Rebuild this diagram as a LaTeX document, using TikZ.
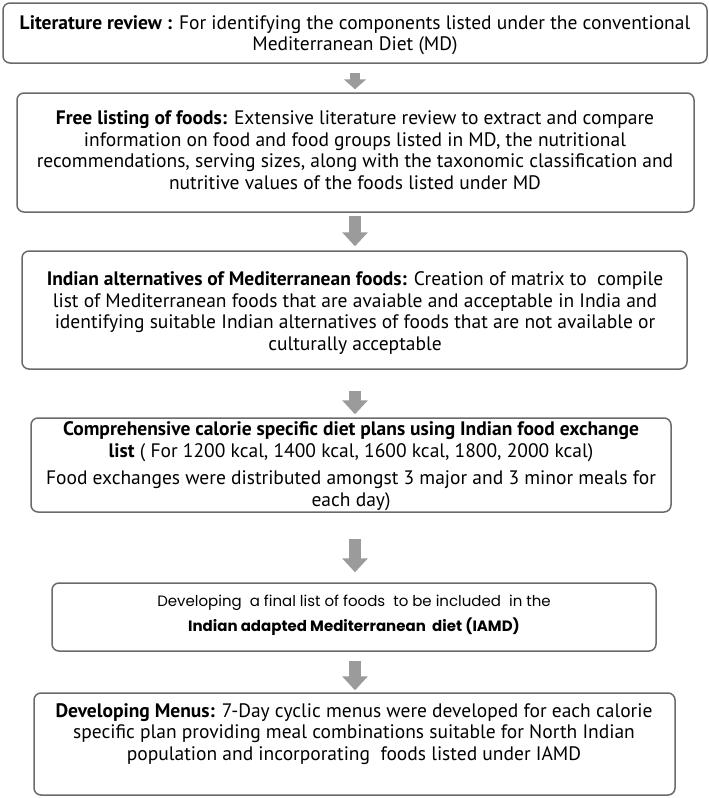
\documentclass[tikz,border=0pt]{standalone}
\usepackage{fontspec}
\setmainfont{PT Sans}
\newfontfamily\popfont{Poppins}
\usetikzlibrary{arrows.meta}
\definecolor{boxline}{HTML}{6A6A6A}
\definecolor{arrowgray}{HTML}{9B9B9B}
\begin{document}
\begin{tikzpicture}[x=1pt,y=-1pt,
  box/.style={draw=boxline, line width=1.5pt, rounded corners=7pt, inner sep=0pt},
  boxtext/.style={inner sep=0pt, align=center, font=\fontsize{19.5}{21.5}\selectfont},
  menutext/.style={inner sep=0pt, align=center, font=\popfont\fontsize{15}{25}\selectfont},
  blockarrow/.style={draw=arrowgray, line width=12pt, -{Triangle[width=25pt,length=14pt]}},
  smallarrow/.style={draw=arrowgray, line width=10pt, -{Triangle[width=22pt,length=10pt]}}]
\useasboundingbox (0,0) rectangle (709,798);
\fill[white] (0,0) rectangle (709,798);
\coordinate (ax) at (355,0);
% boxes
\node[box, minimum width=704pt, minimum height=60pt] (b1) at (355,33) {};
\node[box, minimum width=677pt, minimum height=119pt] (b2) at (355.5,152.5) {};
\node[box, minimum width=665pt, minimum height=118pt] (b3) at (354.5,310) {};
\node[box, minimum width=640pt, minimum height=94pt] (b4) at (351,465) {};
\node[box, minimum width=604pt, minimum height=68pt] (b5) at (354,617) {};
\node[box, minimum width=641pt, minimum height=102pt] (b6) at (354.5,744) {};
% texts
\node[boxtext] (t1) at (355,35) {\textbf{Literature review :} For identifying the components listed under the conventional\\ Mediterranean Diet (MD)};
\node[boxtext] (t2) at (355,150) {\textbf{Free listing of foods:} Extensive literature review to extract and compare\\ information on food and food groups listed in MD, the nutritional\\ recommendations, serving sizes, along with the taxonomic classification and\\ nutritive values of the foods listed under MD};
\node[boxtext] (t3) at (355,313) {\textbf{Indian alternatives of Mediterranean foods:} Creation of matrix to\ \ compile\\ list of Mediterranean foods that are avaiable and acceptable in India and\\ identifying suitable Indian alternatives of foods that are not available or\\ culturally acceptable};
\node[boxtext] (t4) at (351,466) {\textbf{Comprehensive calorie specific diet plans using Indian food exchange}\\ \textbf{list} ( For 1200 kcal, 1400 kcal, 1600 kcal, 1800, 2000 kcal)\\[6pt] Food exchanges were distributed amongst 3 major and 3 minor meals for\\ each day)};
\node[menutext] (t5) at (354,615) {Developing\ \ a final list of foods\ \ to be included\ \ in the\\ \textbf{Indian adapted Mediterranean\ \ diet (IAMD)}};
\node[boxtext] (t6) at (354,734) {\textbf{Developing Menus:} 7-Day cyclic menus were developed for each calorie\\ specific plan providing meal combinations suitable for North Indian\\ population and incorporating\ \ foods listed under IAMD};
% arrows
\draw[smallarrow, shorten <=9pt, shorten >=3pt] (b1.south -| ax) -- (b2.north -| ax);
\draw[blockarrow, shorten <=3pt, shorten >=4pt] (b2.south -| ax) -- (b3.north -| ax);
\draw[blockarrow, shorten <=21pt, shorten >=3pt] (b3.south -| ax) -- (b4.north -| ax);
\draw[blockarrow, shorten <=26pt, shorten >=10pt] (b4.south -| ax) -- (b5.north -| ax);
\draw[blockarrow, shorten <=9pt, shorten >=2pt] (b5.south -| ax) -- (b6.north -| ax);
\end{tikzpicture}
\end{document}
